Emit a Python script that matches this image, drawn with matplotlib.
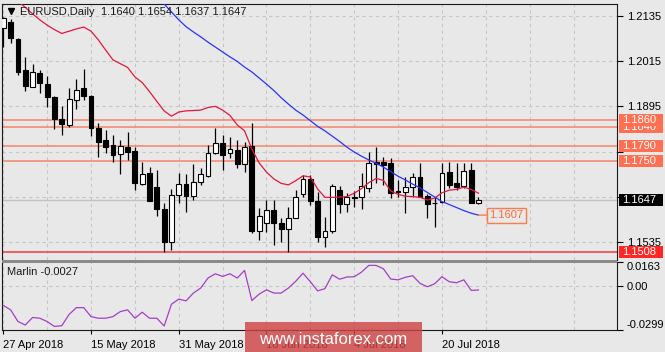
import matplotlib
matplotlib.use("Agg")
import numpy as np
import matplotlib.pyplot as plt
from matplotlib.patches import Rectangle
from matplotlib.transforms import blended_transform_factory

# EURUSD daily candles, 27 Apr 2018 .. 27 Jul 2018
opens = [1.2102, 1.2119, 1.2073, 1.1991, 1.1947, 1.1984, 1.1954, 1.1919, 1.1862, 1.1846,
         1.1912, 1.1943, 1.1922, 1.1837, 1.1806, 1.1793, 1.1769, 1.1788, 1.1777, 1.1689,
         1.1719, 1.1682, 1.1622, 1.1537, 1.1660, 1.1689, 1.1658, 1.1694, 1.1711, 1.1771,
         1.1797, 1.1771, 1.1779, 1.1742, 1.1790, 1.1566, 1.1585, 1.1620, 1.1587, 1.1569,
         1.1599, 1.1663, 1.1702, 1.1645, 1.1548, 1.1566, 1.1673, 1.1636, 1.1654, 1.1655,
         1.1680, 1.1748, 1.1748, 1.1744, 1.1672, 1.1667, 1.1682, 1.1709, 1.1658, 1.1640,
         1.1642, 1.1722, 1.1691, 1.1684, 1.1726, 1.1640]
highs = [1.2132, 1.2125, 1.2075, 1.2026, 1.2007, 1.1991, 1.1975, 1.1922, 1.1896, 1.1943,
         1.1967, 1.1993, 1.1925, 1.1852, 1.1832, 1.1819, 1.1806, 1.1828, 1.1788, 1.1748,
         1.1734, 1.1726, 1.1638, 1.1676, 1.1718, 1.1716, 1.1742, 1.1731, 1.1793, 1.1837,
         1.1819, 1.1815, 1.1806, 1.1801, 1.1850, 1.1625, 1.1647, 1.1647, 1.1599, 1.1629,
         1.1673, 1.1713, 1.1713, 1.1669, 1.1601, 1.1689, 1.1684, 1.1666, 1.1672, 1.1718,
         1.1775, 1.1788, 1.1762, 1.1757, 1.1700, 1.1709, 1.1718, 1.1744, 1.1663, 1.1656,
         1.1744, 1.1748, 1.1744, 1.1744, 1.1744, 1.1654]
lows = [1.2053, 1.2062, 1.1978, 1.1936, 1.1945, 1.1930, 1.1894, 1.1834, 1.1819, 1.1840,
        1.1887, 1.1912, 1.1816, 1.1760, 1.1772, 1.1747, 1.1716, 1.1753, 1.1673, 1.1688,
        1.1644, 1.1605, 1.1509, 1.1515, 1.1638, 1.1616, 1.1647, 1.1687, 1.1707, 1.1768,
        1.1726, 1.1757, 1.1731, 1.1722, 1.1560, 1.1541, 1.1563, 1.1528, 1.1537, 1.1508,
        1.1599, 1.1654, 1.1634, 1.1537, 1.1523, 1.1560, 1.1612, 1.1616, 1.1628, 1.1623,
        1.1669, 1.1691, 1.1687, 1.1652, 1.1656, 1.1612, 1.1656, 1.1654, 1.1599, 1.1576,
        1.1638, 1.1678, 1.1673, 1.1678, 1.1638, 1.1637]
closes = [1.2128, 1.2075, 1.1987, 1.1949, 1.1987, 1.1958, 1.1919, 1.1861, 1.1848, 1.1914,
          1.1938, 1.1922, 1.1837, 1.1801, 1.1788, 1.1766, 1.1791, 1.1775, 1.1693, 1.1716,
          1.1645, 1.1622, 1.1537, 1.1660, 1.1689, 1.1658, 1.1694, 1.1716, 1.1772, 1.1797,
          1.1766, 1.1781, 1.1742, 1.1788, 1.1566, 1.1605, 1.1620, 1.1585, 1.1569, 1.1599,
          1.1654, 1.1702, 1.1645, 1.1550, 1.1566, 1.1684, 1.1636, 1.1654, 1.1652, 1.1684,
          1.1744, 1.1742, 1.1740, 1.1665, 1.1669, 1.1682, 1.1709, 1.1656, 1.1636, 1.1638,
          1.1718, 1.1687, 1.1682, 1.1725, 1.1640, 1.1647]

ma_fast = [1.2208, 1.2190, 1.2174, 1.2157, 1.2140, 1.2124, 1.2110, 1.2098, 1.2088, 1.2094,
           1.2100, 1.2105, 1.2094, 1.2071, 1.2044, 1.2018, 1.2008, 1.1998, 1.1973, 1.1958,
           1.1934, 1.1908, 1.1883, 1.1869, 1.1880, 1.1883, 1.1884, 1.1885, 1.1892, 1.1895,
           1.1885, 1.1871, 1.1846, 1.1830, 1.1782, 1.1745, 1.1721, 1.1703, 1.1691, 1.1687,
           1.1698, 1.1711, 1.1708, 1.1676, 1.1654, 1.1654, 1.1655, 1.1656, 1.1665, 1.1677,
           1.1693, 1.1704, 1.1699, 1.1671, 1.1662, 1.1657, 1.1656, 1.1654, 1.1647, 1.1652,
           1.1666, 1.1673, 1.1675, 1.1681, 1.1675, 1.1665]
ma_slow = [np.nan] * 18 + [
           1.2250, 1.2229, 1.2208, 1.2187, 1.2166, 1.2145, 1.2124, 1.2106, 1.2092, 1.2079,
           1.2065, 1.2052, 1.2039, 1.2026, 1.2014, 1.1999, 1.1986, 1.1970, 1.1954, 1.1937,
           1.1918, 1.1901, 1.1885, 1.1872, 1.1857, 1.1842, 1.1830, 1.1816, 1.1802, 1.1787,
           1.1774, 1.1763, 1.1753, 1.1744, 1.1734, 1.1722, 1.1710, 1.1700, 1.1689, 1.1679,
           1.1667, 1.1655, 1.1643, 1.1635, 1.1627, 1.1619, 1.1612, 1.1607]

marlin = [-0.0132, -0.0162, -0.0241, -0.0265, -0.0214, -0.0219, -0.0242, -0.0275, -0.0270, -0.0193,
          -0.0147, -0.0147, -0.0208, -0.0219, -0.0219, -0.0208, -0.0174, -0.0162, -0.0219, -0.0178,
          -0.0219, -0.0219, -0.0272, -0.0124, -0.0089, -0.0101, -0.0048, -0.0014, 0.0054, 0.0083,
          0.0065, 0.0083, 0.0054, 0.0106, -0.0099, -0.0055, -0.0026, -0.0048, -0.0048, -0.0014,
          0.0032, 0.0087, 0.0029, -0.0033, -0.0018, 0.0076, 0.0046, 0.0061, 0.0063, 0.0094,
          0.0140, 0.0140, 0.0117, 0.0047, 0.0042, 0.0059, 0.0070, 0.0018, -0.0005, 0.0015,
          0.0063, 0.0029, 0.0022, 0.0042, -0.0030, -0.0027]

date_ticks = [0, 12, 24, 36, 48, 60]
date_labels = ["27 Apr 2018", "15 May 2018", "31 May 2018", "18 Jun 2018", "4 Jul 2018", "20 Jul 2018"]
price_ticks = [1.2135, 1.2015, 1.1895, 1.1775, 1.1655, 1.1535]
hidden_ticks = [1.1775, 1.1655]   # covered by the level / bid boxes
levels = [1.1840, 1.1860, 1.1790, 1.1750]
support = 1.1508
marlin_ticks = [0.0163, 0.0, -0.0299]

BG = "#e8e8e8"
GRID = "#c6c6c6"
LEVEL = "#f7846a"
LEVEL_BOX = "#ff6f52"
plt.rcParams["font.family"] = ["Liberation Sans", "DejaVu Sans"]
plt.rcParams["font.size"] = 8

W, H = 665, 352
fig = plt.figure(figsize=(W / 100, H / 100), dpi=100, facecolor=BG)


def px_box(left, top, right, bottom):
    return [left / W, 1 - bottom / H, (right - left) / W, (bottom - top) / H]


ax = fig.add_axes(px_box(2, 4, 617, 260), facecolor=BG)
axm = fig.add_axes(px_box(2, 262, 617, 330), facecolor=BG)

x = np.arange(len(opens))
o, h, l, c = map(np.array, (opens, highs, lows, closes))
bull = c >= o
xlim = (-0.18, 83.95)
ylim = (1.14881, 1.21660)

# candles
ax.vlines(x, l, h, color="black", lw=0.9, zorder=3)
body = np.maximum(np.abs(c - o), 0.00012)
ax.bar(x, body, bottom=np.minimum(o, c), width=0.66,
       color=np.where(bull, "white", "black"), edgecolor="black", lw=0.8, zorder=4)

ax.plot(x, ma_fast, color="#e3173f", lw=0.9, zorder=5)
ax.plot(x, ma_slow, color="#2b32ff", lw=0.9, zorder=5)

for lv in levels:
    ax.axhline(lv, color=LEVEL, lw=1.1, zorder=2)
ax.axhline(support, color="#f43b3b", lw=1.1, zorder=2)
ax.axhline(closes[-1], color="#c2c2c2", lw=1.0, zorder=1)

ax.set_xlim(*xlim)
ax.set_ylim(*ylim)
ax.set_xticks(range(0, 84, 6))
ax.tick_params(axis="x", bottom=False, labelbottom=False)
ax.yaxis.tick_right()
ax.set_yticks(price_ticks)
ax.set_yticklabels(["" if p in hidden_ticks else f"{p:.4f}" for p in price_ticks])
ax.tick_params(axis="y", length=4, pad=3, color="black", labelcolor="black")
ax.grid(True, ls=(0, (3, 3)), color=GRID, lw=0.8)
ax.set_axisbelow(True)
for s in ("top", "left", "right"):
    ax.spines[s].set_color("#1a1a1a")
ax.spines["bottom"].set_visible(False)

# right-hand price boxes, running to the image edge
tr_box = blended_transform_factory(fig.transFigure, ax.transData)
box_h = 12 * (ylim[1] - ylim[0]) / 256


def price_box(value, fc, z):
    ax.add_patch(Rectangle((619 / W, value - box_h / 2), 44 / W, box_h, transform=tr_box,
                           fc=fc, ec="none", clip_on=False, zorder=z))
    ax.text(622 / W, value, f"{value:.4f}", transform=tr_box, va="center", ha="left",
            color="white", clip_on=False, zorder=z + 0.5)


for lv, z in zip(levels, (10, 11, 10, 10)):
    price_box(lv, LEVEL_BOX, z)
price_box(support, "#ff2626", 10)
price_box(closes[-1], "black", 10)

ax.annotate(f"{ma_slow[-1]:.4f}", xy=(x[-1], ma_slow[-1]), xytext=(8, 0), textcoords="offset points",
            va="center", ha="left", color="#ff6a3a", zorder=8,
            bbox=dict(boxstyle="square,pad=0.22", fc=BG, ec="#ff7a4a", lw=1),
            arrowprops=dict(arrowstyle="-", color="#ff7a4a", lw=1, shrinkA=0, shrinkB=0))

ax.plot([9 / 615], [1 - 7 / 256], marker="v", ms=5, color="black", transform=ax.transAxes, clip_on=False)
ax.text(18 / 615, 1 - 8 / 256,
        f"EURUSD,Daily  {opens[-1]:.4f} {highs[-1]:.4f} {lows[-1]:.4f} {closes[-1]:.4f}",
        transform=ax.transAxes, va="center", ha="left", color="#1a1a1a", zorder=12)

# Marlin oscillator panel
axm.plot(x, marlin, color="#a53fc6", lw=0.9, zorder=3)
axm.axhline(0, ls=(0, (3, 3)), color=GRID, lw=0.8, zorder=1)
axm.set_xlim(*xlim)
axm.set_ylim(-0.0299, 0.0163)
axm.set_xticks(date_ticks)
axm.set_xticklabels(date_labels)
axm.set_xticks(range(6, 84, 12), minor=True)
axm.tick_params(axis="x", which="major", length=3, pad=4, color="black")
axm.tick_params(axis="x", which="minor", length=0)
for lab in axm.get_xticklabels():
    lab.set_ha("left")
axm.grid(True, axis="x", which="both", ls=(0, (3, 3)), color=GRID, lw=0.8)
axm.set_axisbelow(True)
axm.yaxis.tick_right()
axm.set_yticks(marlin_ticks)
axm.set_yticklabels(["0.0163", "0.00", "-0.0299"])
axm.tick_params(axis="y", length=4, pad=3)
ylabs = axm.get_yticklabels()
ylabs[0].set_va("top")
ylabs[2].set_va("bottom")
for s in ("bottom", "left", "right"):
    axm.spines[s].set_color("#1a1a1a")
axm.spines["top"].set_visible(False)
axm.text(5 / 615, 1 - 10 / 68, f"Marlin {marlin[-1]:.4f}", transform=axm.transAxes,
         va="center", ha="left", color="#1a1a1a")

# separator between the two panels
fig.patches.append(Rectangle((2 / W, 1 - 263 / H), 615 / W, 3.5 / H, transform=fig.transFigure,
                             fc="#8a8a8a", ec="none"))

# watermark
fig.patches.append(Rectangle((245 / W, 0), 177 / W, 30 / H, transform=fig.transFigure,
                             fc="#cf4444", ec="none", alpha=0.82, zorder=20))
fig.text(333 / W, 1 - 339 / H, "www.instaforex.com", ha="center", va="center",
         color="white", fontsize=12, zorder=21)

fig.savefig("out.png", dpi=100, facecolor=BG)
